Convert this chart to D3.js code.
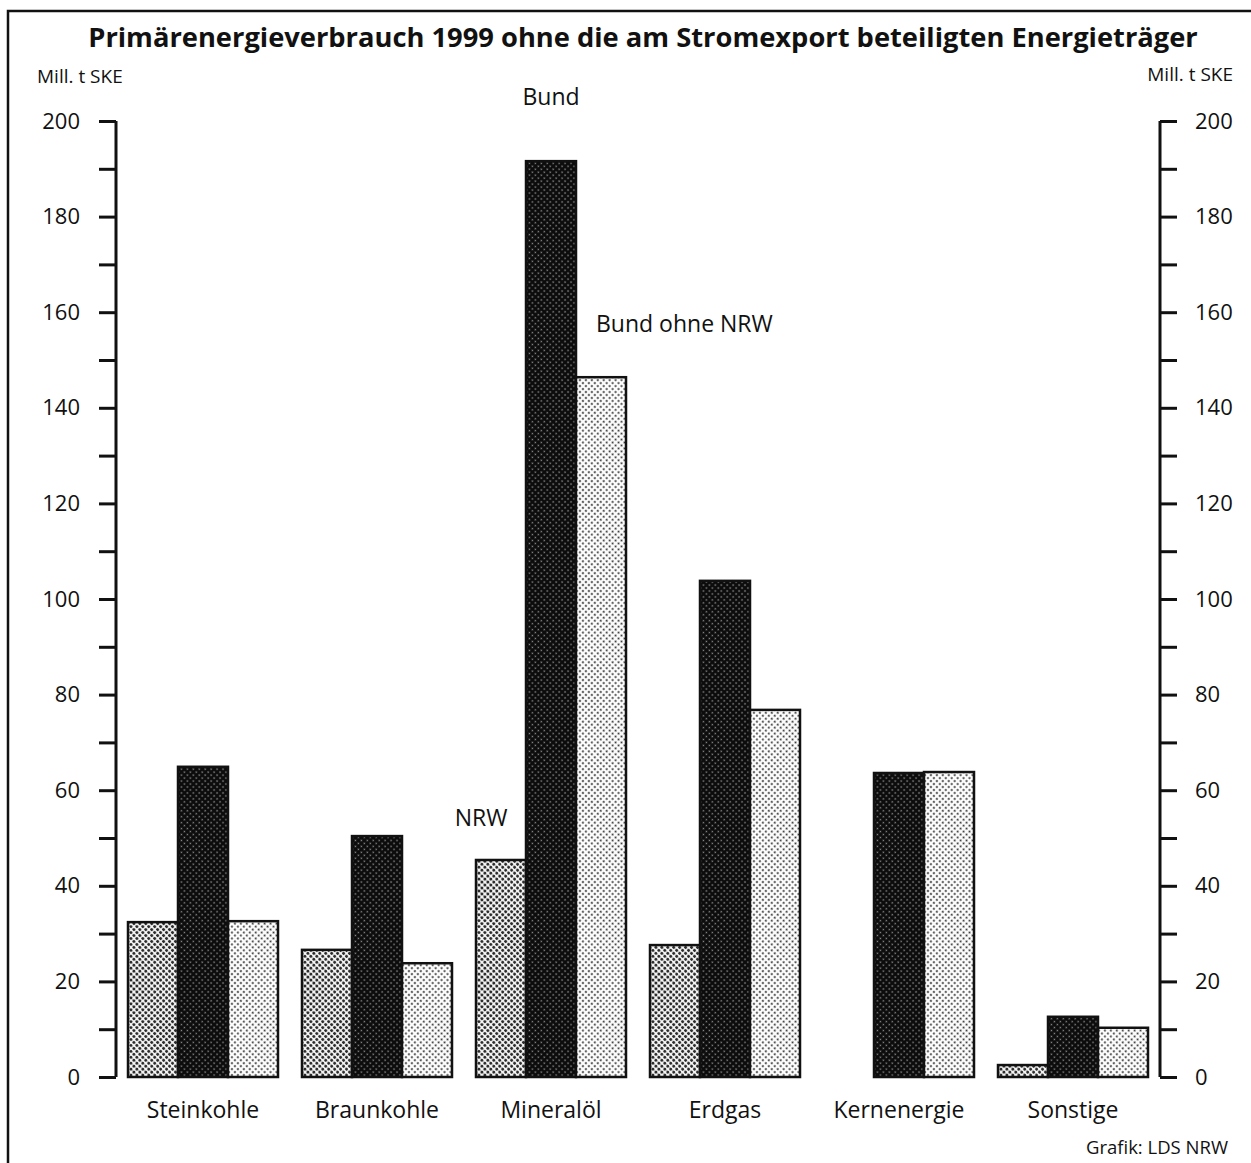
<!DOCTYPE html>
<html>
<head>
<meta charset="utf-8">
<script src="https://cdn.jsdelivr.net/npm/d3@7"></script>
<style>
  body { margin: 0; background: #fff; }
  text { font-family: "Open Sans", "DejaVu Sans", sans-serif; fill: #111; }
</style>
</head>
<body>
<script>
// data (Mill. t SKE)
const categories = ["Steinkohle", "Braunkohle", "Mineralöl", "Erdgas", "Kernenergie", "Sonstige"];
const series = ["NRW", "Bund", "Bund ohne NRW"];
const nrw = [32.4, 26.6, 45.4, 27.6, 0, 2.5];
const bund = [64.9, 50.4, 191.6, 103.8, 63.6, 12.6];
const bundOhneNrw = [32.6, 23.8, 146.4, 76.8, 63.8, 10.3];
const tickValues = [0, 20, 40, 60, 80, 100, 120, 140, 160, 180, 200];

const width = 1251, height = 1163;
const svg = d3.select("body").append("svg")
  .attr("width", width).attr("height", height);

// halftone-ish patterns
const defs = svg.append("defs");
function pattern(id, bg, dot, r, size) {
  const p = defs.append("pattern")
    .attr("id", id)
    .attr("patternUnits", "userSpaceOnUse")
    .attr("width", size).attr("height", size)
    .attr("patternTransform", "rotate(45)");
  p.append("rect").attr("width", size).attr("height", size).attr("fill", bg);
  p.append("circle").attr("cx", size / 2).attr("cy", size / 2).attr("r", r).attr("fill", dot);
}
pattern("pNRW", "#f6f6f6", "#2a2a2a", 1.55, 4.2);
pattern("pBund", "#0c0c0c", "#8a8a8a", 0.85, 4.2);
pattern("pOhne", "#fcfcfc", "#3a3a3a", 1.0, 4.2);
const fills = ["url(#pNRW)", "url(#pBund)", "url(#pOhne)"];

// frame
svg.append("path")
  .attr("d", `M8,${height} L8,11 L${width},11`)
  .attr("fill", "none").attr("stroke", "#111").attr("stroke-width", 2.5);

svg.append("text")
  .attr("x", 643).attr("y", 47)
  .attr("text-anchor", "middle")
  .attr("font-size", 27.3).attr("font-weight", "bold")
  .text("Primärenergieverbrauch 1999 ohne die am Stromexport beteiligten Energieträger");

svg.append("text").attr("x", 37).attr("y", 83).attr("font-size", 19).text("Mill. t SKE");
svg.append("text").attr("x", 1233).attr("y", 81).attr("font-size", 19)
  .attr("text-anchor", "end").text("Mill. t SKE");

const y = d3.scaleLinear().domain([0, 200]).range([1077, 121]);

const x0 = d3.scaleBand().domain(categories).range([128, 1148]).paddingInner(24 / 174).paddingOuter(0);
const x1 = d3.scaleBand().domain(series).range([0, x0.bandwidth()]);

// axes
const minor = d3.range(0, 201, 10);
const fmt = d => tickValues.includes(d) ? d : "";
const gl = svg.append("g").attr("transform", "translate(116,0)")
  .call(d3.axisLeft(y).tickValues(minor).tickSize(17).tickFormat(fmt));
const gr = svg.append("g").attr("transform", "translate(1160,0)")
  .call(d3.axisRight(y).tickValues(minor).tickSize(17).tickFormat(fmt));

[gl, gr].forEach(g => {
  g.select(".domain").attr("stroke", "#111").attr("stroke-width", 3)
    .attr("d", "M0,1077V121");
  g.selectAll(".tick line").attr("stroke", "#111").attr("stroke-width", 3);
  g.selectAll(".tick text").attr("font-size", 22)
    .attr("font-family", '"Open Sans", "DejaVu Sans", sans-serif').attr("fill", "#111");
});
gl.selectAll(".tick text").attr("x", -36);
gr.selectAll(".tick text").attr("x", 35);

// bars
const rows = categories.map((c, i) => ({ cat: c, vals: [nrw[i], bund[i], bundOhneNrw[i]] }));
const groups = svg.append("g").selectAll("g").data(rows).join("g")
  .attr("transform", d => `translate(${x0(d.cat)},0)`);

groups.selectAll("rect")
  .data(d => d.vals.map((v, j) => ({ v, j })).filter(e => e.v > 0))
  .join("rect")
  .attr("x", e => x1(series[e.j]))
  .attr("y", e => y(e.v))
  .attr("width", x1.bandwidth())
  .attr("height", e => y(0) - y(e.v))
  .attr("fill", e => fills[e.j])
  .attr("stroke", "#111").attr("stroke-width", 2.5);

// category labels
svg.append("g").selectAll("text").data(categories).join("text")
  .attr("x", d => x0(d) + x0.bandwidth() / 2)
  .attr("y", 1118)
  .attr("text-anchor", "middle")
  .attr("font-size", 23)
  .text(d => d);

// series annotations at Mineralöl
const mi = categories.indexOf("Mineralöl");
svg.append("text")
  .attr("x", x0("Mineralöl") + x1("Bund") + x1.bandwidth() / 2)
  .attr("y", y(bund[mi]) - 56)
  .attr("text-anchor", "middle").attr("font-size", 23).text("Bund");
svg.append("text")
  .attr("x", x0("Mineralöl") + x1("Bund ohne NRW") + 20)
  .attr("y", y(bundOhneNrw[mi]) - 45)
  .attr("font-size", 23).text("Bund ohne NRW");
svg.append("text")
  .attr("x", x0("Mineralöl") + 5)
  .attr("y", y(nrw[mi]) - 34)
  .attr("text-anchor", "middle").attr("font-size", 23).text("NRW");

svg.append("text").attr("x", 1228).attr("y", 1154)
  .attr("text-anchor", "end").attr("font-size", 18.5).text("Grafik: LDS NRW");
</script>
</body>
</html>
